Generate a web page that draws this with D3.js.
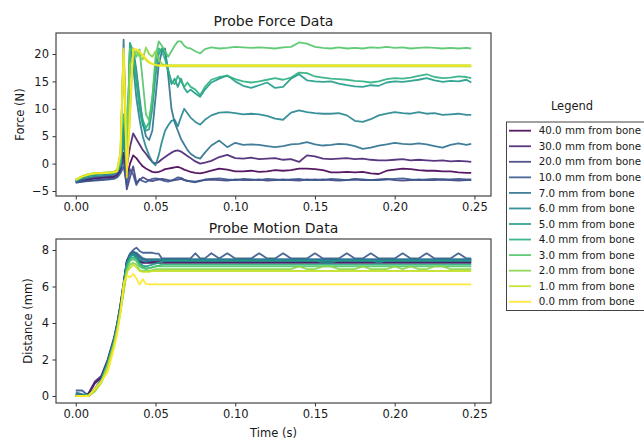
<!DOCTYPE html>
<html lang="en">

<head>
  <meta charset="UTF-8">
  <script src="https://cdn.jsdelivr.net/npm/d3@7"></script>
  <title>Probe Force / Motion Data</title>
  <style>
    body {
      margin: 0;
      background: #fff;
    }

    svg text {
      font-family: 'DejaVu Sans', sans-serif;
      fill: #1a1a1a;
    }

    .tick text {
      font-size: 11.5px;
    }

    .tick line {
      stroke: #333;
    }

    .title {
      font-size: 14px;
      text-anchor: middle;
    }

    .label {
      font-size: 11.5px;
      text-anchor: middle;
    }

    .legend text {
      font-size: 10.3px;
    }
  </style>
</head>

<body>
  <script>
    // time samples (s), shared by every series
    const time = [0, 0.004, 0.008, 0.012, 0.016, 0.020, 0.024, 0.026, 0.028, 0.030,
      0.032, 0.034, 0.036, 0.038, 0.040, 0.042, 0.044, 0.046, 0.048, 0.050,
      0.052, 0.054, 0.056, 0.058, 0.060, 0.062, 0.064, 0.066, 0.068, 0.070,
      0.072, 0.075, 0.078, 0.081, 0.085, 0.090, 0.095, 0.100, 0.105, 0.110,
      0.115, 0.120, 0.125, 0.130, 0.135, 0.140, 0.145, 0.150, 0.155, 0.160,
      0.165, 0.170, 0.175, 0.180, 0.185, 0.190, 0.195, 0.200, 0.205, 0.210,
      0.215, 0.220, 0.225, 0.230, 0.235, 0.240, 0.245, 0.248];

    const labels = ['40.0 mm from bone', '30.0 mm from bone', '20.0 mm from bone', '10.0 mm from bone',
      '7.0 mm from bone', '6.0 mm from bone', '5.0 mm from bone', '4.0 mm from bone',
      '3.0 mm from bone', '2.0 mm from bone', '1.0 mm from bone', '0.0 mm from bone'];

    const xTicks = [0, 0.05, 0.10, 0.15, 0.20, 0.25];
    const forceTicks = [-5, 0, 5, 10, 15, 20];
    const motionTicks = [0, 2, 4, 6, 8];

    // force (N)
    const force40 = [-3.4, -3.1, -2.9, -2.7, -2.6, -2.5, -2.4, -2.1, -1.0, 2.0,
      -2.5, 0.0, 1.5, 1.0, 0.2, -0.5, -0.9, -1.2, -1.5, -1.6,
      -1.5, -1.3, -1.0, -0.9, -0.8, -0.7, -0.6, -0.8, -1.1, -1.3,
      -1.5, -1.7, -1.8, -1.6, -1.3, -0.9, -1.1, -1.4, -1.4, -1.3,
      -1.5, -1.4, -1.2, -1.3, -1.2, -0.9, -0.9, -1.0, -1.2, -1.6,
      -1.6, -1.5, -1.6, -1.5, -1.8, -1.9, -1.3, -1.1, -0.9, -1.0,
      -1.2, -1.3, -1.3, -1.4, -1.4, -1.6, -1.7, -1.7];
    const force30 = [-3.3, -3.0, -2.8, -2.6, -2.5, -2.4, -2.3, -2.0, -1.0, 7.0,
      -0.5, 3.0, 5.5, 4.5, 3.5, 2.5, 1.8, 1.0, 0.3, 0.0,
      0.3, 0.8, 1.2, 1.6, 2.0, 2.3, 2.4, 2.2, 1.8, 1.4,
      1.0, 0.4, 0.0, 0.2, 0.5, 1.2, 1.6, 1.0, 0.9, 1.1,
      0.8, 0.9, 1.0, 0.7, 0.8, 0.3, 1.5, 1.3, 0.9, 0.8,
      0.9, 1.0, 0.8, 0.9, 0.7, 0.6, 0.6, 0.7, 0.8, 0.6,
      0.7, 0.6, 0.5, 0.6, 0.4, 0.5, 0.4, 0.3];
    const force20 = [-3.4, -3.3, -3.1, -3.0, -2.9, -2.8, -2.6, -2.3, -1.5, 1.0,
      -4.7, -2.5, -0.5, -3.5, -3.0, -2.5, -2.8, -3.1, -3.2, -3.0,
      -2.9, -2.8, -2.9, -3.0, -3.1, -3.0, -2.9, -2.8, -3.0, -3.2,
      -3.2, -3.3, -3.1, -3.0, -2.9, -3.0, -3.1, -2.9, -3.0, -3.0,
      -2.9, -3.1, -3.0, -2.9, -3.0, -3.1, -2.9, -3.0, -2.9, -3.0,
      -3.1, -3.0, -2.9, -3.0, -3.0, -2.9, -2.8, -3.0, -3.1, -3.0,
      -2.9, -3.0, -3.0, -2.9, -3.0, -3.1, -3.0, -3.0];
    const force10 = [-3.5, -3.3, -3.2, -3.1, -3.0, -2.9, -2.8, -2.5, -1.8, -0.5,
      -3.8, -1.0, -2.0, -3.9, -2.8, -3.2, -3.4, -3.0, -2.8, -2.7,
      -2.8, -3.0, -3.2, -3.3, -3.1, -2.8, -2.5, -2.6, -2.9, -3.1,
      -3.3, -3.4, -3.2, -2.9, -2.8, -2.7, -2.9, -3.0, -2.8, -2.9,
      -3.0, -2.8, -2.9, -3.0, -2.9, -2.8, -3.0, -2.9, -3.0, -2.8,
      -2.9, -3.0, -2.8, -2.9, -3.0, -3.0, -2.9, -2.8, -2.7, -2.9,
      -3.0, -2.9, -2.8, -2.9, -2.9, -2.8, -2.9, -2.9];
    const force7 = [-3.3, -2.9, -2.6, -2.4, -2.3, -2.2, -2.0, -1.6, -0.5, 22.6,
      -2.0, 20.5, 21.0, 17.0, 12.0, 7.5, 5.0, 4.3, 6.0, 12.0,
      18.0, 20.5, 21.0, 16.0, 10.0, 7.5, 6.0, 4.5, 3.5, 2.5,
      1.8, 1.2, 0.9, 2.0, 3.3, 4.2, 3.0, 3.8, 3.4, 3.5,
      3.4, 3.2, 3.0, 3.2, 3.5, 3.6, 3.9, 3.5, 3.3, 3.4,
      3.6, 3.5, 3.2, 2.7, 2.9, 3.3, 3.5, 3.8, 3.6, 3.5,
      3.7, 3.5, 3.2, 2.9, 3.4, 3.7, 3.4, 3.6];
    const force6 = [-3.2, -2.7, -2.3, -2.1, -2.0, -1.9, -1.8, -1.5, -0.5, 4.0,
      -1.0, 22.0, 18.0, 12.0, 8.0, 5.0, 3.0, 1.5, 0.3, -0.3,
      1.5, 4.0, 6.0, 7.0, 7.8, 8.0, 6.8, 8.5, 10.0, 9.2,
      8.4, 7.6, 7.1, 8.0, 8.8, 9.3, 9.4, 9.2, 9.0, 9.1,
      9.0, 8.7, 8.2, 8.0, 9.3, 9.7, 9.4, 9.2, 9.1, 9.1,
      9.2, 8.8, 7.8, 7.6, 8.1, 8.8, 9.1, 9.4, 9.2, 9.1,
      9.4, 9.1, 9.2, 8.9, 9.0, 9.1, 8.9, 8.9];
    const force5 = [-3.1, -2.6, -2.2, -2.0, -1.9, -1.8, -1.7, -1.4, -0.3, 6.0,
      0.0, 21.5, 20.0, 15.0, 10.0, 7.0, 6.0, 6.3, 10.0, 16.0,
      20.0, 21.0, 20.0, 17.0, 14.5, 15.5, 14.0, 15.5, 13.8, 13.0,
      13.5, 12.8, 12.2, 13.5, 14.8, 15.5, 16.1, 15.0, 14.2, 13.8,
      14.3, 14.8, 13.8, 14.0, 15.5, 16.3, 15.2, 15.0, 14.9, 15.0,
      14.6, 14.3, 14.1, 14.0, 14.3, 14.2, 14.8, 15.0, 14.9, 15.1,
      15.3, 15.6, 15.2, 14.9, 15.1, 15.0, 15.3, 14.8];
    const force4 = [-3.0, -2.5, -2.1, -1.9, -1.8, -1.7, -1.6, -1.3, 0.0, 9.0,
      1.0, 22.0, 20.5, 16.0, 11.0, 8.0, 6.5, 7.5, 12.0, 18.0,
      21.0, 20.5, 19.0, 17.0, 15.0, 14.5, 16.0, 15.0, 14.0, 14.8,
      14.0, 13.5, 12.5, 14.0, 15.3, 15.8, 16.0, 15.4, 15.0, 14.8,
      15.0, 15.3, 15.6, 15.3, 15.7, 16.6, 16.5, 15.9, 15.7, 15.5,
      15.4, 15.3, 15.1, 15.0, 14.8, 15.0, 15.4, 15.6, 15.5, 15.7,
      16.0, 16.3, 15.8, 15.6, 15.7, 15.9, 15.8, 15.6];
    const force3 = [-3.0, -2.4, -2.0, -1.8, -1.7, -1.7, -1.6, -1.2, 0.5, 19.0,
      2.0, 21.0, 20.5, 19.5, 20.8, 15.0, 9.0, 7.9, 12.0, 19.5,
      22.3, 21.5, 20.5, 19.5, 20.5, 21.5, 22.3, 22.3, 21.5, 21.1,
      21.0, 20.5, 20.1, 20.9, 21.2, 21.0, 21.1, 21.3, 21.2, 21.1,
      21.2, 21.1, 21.0, 21.2, 21.3, 22.1, 21.9, 21.3, 21.1, 21.0,
      21.2, 21.0, 21.1, 21.0, 21.2, 21.1, 21.3, 21.1, 21.2, 21.0,
      21.1, 21.2, 21.1, 21.0, 21.1, 21.0, 21.1, 21.0];
    const force2 = [-2.9, -2.3, -1.9, -1.8, -1.7, -1.6, -1.5, -1.0, 2.0, 20.0,
      3.0, 18.0, 19.5, 20.5, 19.5, 19.0, 21.2, 20.0, 19.5, 20.5,
      19.0, 18.2, 17.9, 17.8, 17.75, 17.75, 17.75, 17.75, 17.75, 17.75,
      17.75, 17.75, 17.75, 17.75, 17.75, 17.75, 17.75, 17.75, 17.75, 17.75,
      17.75, 17.75, 17.75, 17.75, 17.75, 17.75, 17.75, 17.75, 17.75, 17.75,
      17.75, 17.75, 17.75, 17.75, 17.75, 17.75, 17.75, 17.75, 17.75, 17.75,
      17.75, 17.75, 17.75, 17.75, 17.75, 17.75, 17.75, 17.75];
    const force1 = [-2.9, -2.3, -1.9, -1.7, -1.7, -1.6, -1.5, -1.1, 1.5, 20.5,
      -1.0, 8.0, 20.8, 20.8, 20.2, 19.6, 18.9, 18.4, 18.2, 18.0,
      17.95, 17.95, 17.95, 17.95, 17.95, 17.95, 17.95, 17.95, 17.95, 17.95,
      17.95, 17.95, 17.95, 17.95, 17.95, 17.95, 17.95, 17.95, 17.95, 17.95,
      17.95, 17.95, 17.95, 17.95, 17.95, 17.95, 17.95, 17.95, 17.95, 17.95,
      17.95, 17.95, 17.95, 17.95, 17.95, 17.95, 17.95, 17.95, 17.95, 17.95,
      17.95, 17.95, 17.95, 17.95, 17.95, 17.95, 17.95, 17.95];
    const force0 = [-3.0, -2.4, -2.0, -1.8, -1.8, -1.7, -1.6, -1.4, 2.0, 21.0,
      -2.5, 10.0, 21.0, 20.8, 20.5, 19.8, 19.2, 18.6, 18.2, 18.0,
      17.85, 17.85, 17.85, 17.85, 17.85, 17.85, 17.85, 17.85, 17.85, 17.85,
      17.85, 17.85, 17.85, 17.85, 17.85, 17.85, 17.85, 17.85, 17.85, 17.85,
      17.85, 17.85, 17.85, 17.85, 17.85, 17.85, 17.85, 17.85, 17.85, 17.85,
      17.85, 17.85, 17.85, 17.85, 17.85, 17.85, 17.85, 17.85, 17.85, 17.85,
      17.85, 17.85, 17.85, 17.85, 17.85, 17.85, 17.85, 17.85];

    // probe motion (mm)
    const motion40 = [0.0, 0.0, 0.1, 0.7, 1.0, 1.9, 3.1, 3.9, 4.9, 6.1,
      7.3, 7.7, 7.75, 7.6, 7.35, 7.3, 7.3, 7.3, 7.3, 7.3,
      7.3, 7.3, 7.3, 7.3, 7.3, 7.3, 7.3, 7.3, 7.3, 7.3,
      7.3, 7.3, 7.3, 7.3, 7.3, 7.3, 7.3, 7.3, 7.3, 7.3,
      7.3, 7.3, 7.3, 7.3, 7.3, 7.3, 7.3, 7.3, 7.3, 7.3,
      7.3, 7.3, 7.3, 7.3, 7.3, 7.3, 7.3, 7.3, 7.3, 7.3,
      7.3, 7.3, 7.3, 7.3, 7.3, 7.3, 7.3, 7.3];
    const motion30 = [0.05, 0.0, 0.15, 0.8, 1.1, 2.0, 3.2, 4.0, 5.0, 6.2,
      7.4, 7.75, 7.8, 7.65, 7.4, 7.35, 7.35, 7.35, 7.35, 7.35,
      7.35, 7.35, 7.35, 7.35, 7.35, 7.35, 7.35, 7.35, 7.35, 7.35,
      7.35, 7.35, 7.35, 7.35, 7.35, 7.35, 7.35, 7.35, 7.35, 7.35,
      7.35, 7.35, 7.35, 7.35, 7.35, 7.35, 7.35, 7.35, 7.35, 7.35,
      7.35, 7.35, 7.35, 7.35, 7.35, 7.35, 7.35, 7.35, 7.35, 7.35,
      7.35, 7.35, 7.35, 7.35, 7.35, 7.35, 7.35, 7.35];
    const motion20 = [0.1, 0.05, 0.0, 0.35, 0.85, 1.85, 3.05, 3.9, 4.9, 6.1,
      7.35, 7.75, 7.9, 7.8, 7.6, 7.5, 7.45, 7.45, 7.45, 7.45,
      7.45, 7.45, 7.45, 7.45, 7.45, 7.45, 7.45, 7.45, 7.45, 7.45,
      7.45, 7.45, 7.45, 7.45, 7.45, 7.45, 7.45, 7.45, 7.45, 7.45,
      7.45, 7.45, 7.45, 7.45, 7.45, 7.45, 7.45, 7.45, 7.45, 7.45,
      7.45, 7.45, 7.45, 7.45, 7.45, 7.45, 7.45, 7.45, 7.45, 7.45,
      7.45, 7.45, 7.45, 7.45, 7.45, 7.45, 7.45, 7.45];
    const motion10 = [0.3, 0.3, 0.0, 0.3, 0.8, 1.8, 3.1, 4.0, 5.0, 6.2,
      7.4, 7.8, 8.0, 8.13, 7.95, 7.85, 7.85, 7.85, 7.85, 7.8,
      7.8, 7.54, 7.54, 7.54, 7.54, 7.54, 7.54, 7.54, 7.54, 7.54,
      7.54, 7.82, 7.54, 7.54, 7.82, 7.54, 7.82, 7.54, 7.54, 7.54,
      7.82, 7.54, 7.54, 7.82, 7.54, 7.54, 7.54, 7.82, 7.54, 7.54,
      7.54, 7.82, 7.54, 7.54, 7.82, 7.54, 7.54, 7.54, 7.82, 7.54,
      7.54, 7.82, 7.54, 7.54, 7.54, 7.82, 7.54, 7.54];
    const motion7 = [0.2, 0.1, 0.0, 0.4, 0.9, 1.9, 3.1, 3.9, 4.9, 6.1,
      7.3, 7.7, 7.9, 7.85, 7.7, 7.55, 7.5, 7.5, 7.5, 7.5,
      7.5, 7.5, 7.5, 7.5, 7.5, 7.5, 7.5, 7.5, 7.5, 7.5,
      7.5, 7.5, 7.5, 7.5, 7.5, 7.5, 7.5, 7.5, 7.5, 7.5,
      7.5, 7.5, 7.5, 7.5, 7.5, 7.5, 7.5, 7.5, 7.5, 7.5,
      7.5, 7.5, 7.5, 7.5, 7.5, 7.5, 7.5, 7.5, 7.5, 7.5,
      7.5, 7.5, 7.5, 7.5, 7.5, 7.5, 7.5, 7.5];
    const motion6 = [0.1, 0.05, 0.05, 0.4, 0.9, 1.8, 3.0, 3.8, 4.8, 6.0,
      7.2, 7.7, 7.8, 7.7, 7.5, 7.4, 7.35, 7.4, 7.45, 7.45,
      7.45, 7.45, 7.45, 7.45, 7.45, 7.45, 7.45, 7.45, 7.45, 7.45,
      7.45, 7.45, 7.45, 7.45, 7.45, 7.45, 7.45, 7.45, 7.45, 7.45,
      7.45, 7.45, 7.45, 7.45, 7.45, 7.45, 7.45, 7.45, 7.3, 7.3,
      7.45, 7.45, 7.45, 7.45, 7.45, 7.3, 7.45, 7.45, 7.45, 7.45,
      7.45, 7.45, 7.45, 7.45, 7.45, 7.45, 7.45, 7.45];
    const motion5 = [0.0, 0.0, 0.05, 0.35, 0.85, 1.8, 3.0, 3.8, 4.8, 6.0,
      7.2, 7.6, 7.75, 7.6, 7.3, 7.15, 7.1, 7.15, 7.2, 7.25,
      7.3, 7.35, 7.4, 7.4, 7.4, 7.4, 7.4, 7.4, 7.4, 7.4,
      7.4, 7.4, 7.4, 7.4, 7.4, 7.4, 7.4, 7.4, 7.4, 7.4,
      7.4, 7.4, 7.4, 7.4, 7.4, 7.4, 7.4, 7.4, 7.4, 7.4,
      7.4, 7.4, 7.4, 7.4, 7.4, 7.4, 7.4, 7.4, 7.4, 7.4,
      7.4, 7.4, 7.4, 7.4, 7.4, 7.4, 7.4, 7.4];
    const motion4 = [0.0, 0.0, 0.05, 0.3, 0.8, 1.7, 2.9, 3.7, 4.7, 5.9,
      7.1, 7.5, 7.6, 7.5, 7.2, 7.05, 7.0, 7.0, 7.05, 7.1,
      7.15, 7.2, 7.2, 7.2, 7.2, 7.2, 7.2, 7.2, 7.2, 7.2,
      7.2, 7.2, 7.2, 7.2, 7.2, 7.2, 7.2, 7.2, 7.2, 7.2,
      7.2, 7.2, 7.2, 7.2, 7.2, 7.2, 7.2, 7.2, 7.2, 7.2,
      7.2, 7.2, 7.2, 7.2, 7.2, 7.2, 7.2, 7.2, 7.2, 7.2,
      7.2, 7.2, 7.2, 7.2, 7.2, 7.2, 7.2, 7.2];
    const motion3 = [0.0, 0.0, 0.05, 0.3, 0.8, 1.7, 2.9, 3.7, 4.7, 5.8,
      7.0, 7.4, 7.5, 7.4, 7.1, 7.0, 6.95, 7.0, 7.05, 7.1,
      7.1, 7.1, 7.1, 7.1, 7.1, 7.1, 7.1, 7.1, 7.1, 7.1,
      7.1, 7.1, 7.1, 7.1, 7.1, 7.1, 7.1, 7.1, 7.1, 7.1,
      7.1, 7.1, 7.1, 7.1, 7.1, 7.1, 7.1, 7.1, 7.1, 7.1,
      7.1, 7.1, 7.1, 7.1, 7.1, 7.1, 7.1, 7.1, 7.1, 7.1,
      7.1, 7.1, 7.1, 7.1, 7.1, 7.1, 7.1, 7.1];
    const motion2 = [0.0, 0.0, 0.0, 0.25, 0.75, 1.6, 2.8, 3.6, 4.6, 5.7,
      6.8, 7.2, 7.3, 7.2, 6.9, 6.85, 6.85, 6.85, 6.9, 6.95,
      6.95, 6.95, 6.95, 6.95, 6.95, 6.95, 6.95, 6.95, 6.95, 6.95,
      6.95, 6.95, 6.95, 6.95, 6.95, 6.95, 6.95, 6.95, 6.95, 6.95,
      6.95, 6.95, 6.95, 6.95, 6.95, 7.1, 6.95, 6.95, 7.1, 7.1,
      6.95, 6.95, 6.95, 7.1, 6.95, 6.95, 6.95, 7.1, 6.95, 7.1,
      6.95, 6.95, 7.1, 7.1, 6.95, 6.95, 6.95, 6.95];
    const motion1 = [0.0, 0.0, 0.0, 0.3, 0.7, 1.6, 2.8, 3.6, 4.6, 5.7,
      6.8, 7.0, 7.2, 7.05, 6.85, 6.8, 6.8, 6.8, 6.85, 6.85,
      6.85, 6.85, 6.85, 6.85, 6.85, 6.85, 6.85, 6.85, 6.85, 6.85,
      6.85, 6.85, 6.85, 6.85, 6.85, 6.85, 6.85, 6.85, 6.85, 6.85,
      6.85, 6.85, 6.85, 6.85, 6.85, 6.85, 6.85, 6.85, 6.85, 6.85,
      6.85, 6.85, 6.85, 6.85, 6.85, 6.85, 6.85, 6.85, 6.85, 6.85,
      6.85, 6.85, 6.85, 6.85, 6.85, 6.85, 6.85, 6.85];
    const motion0 = [0.0, 0.0, 0.0, 0.4, 0.8, 1.3, 2.6, 3.4, 4.5, 6.2,
      6.6, 6.5, 6.7, 6.45, 6.1, 6.4, 6.15, 6.12, 6.12, 6.12,
      6.12, 6.12, 6.12, 6.12, 6.12, 6.12, 6.12, 6.12, 6.12, 6.12,
      6.12, 6.12, 6.12, 6.12, 6.12, 6.12, 6.12, 6.12, 6.12, 6.12,
      6.12, 6.12, 6.12, 6.12, 6.12, 6.12, 6.12, 6.12, 6.12, 6.12,
      6.12, 6.12, 6.12, 6.12, 6.12, 6.12, 6.12, 6.12, 6.12, 6.12,
      6.12, 6.12, 6.12, 6.12, 6.12, 6.12, 6.12, 6.12];

    const forceSeries = [force40, force30, force20, force10, force7, force6, force5, force4, force3, force2, force1, force0];
    const motionSeries = [motion40, motion30, motion20, motion10, motion7, motion6, motion5, motion4, motion3, motion2, motion1, motion0];

    const width = 644, height = 443;
    const left = 56, right = 491;

    const svg = d3.select('body').append('svg').attr('width', width).attr('height', height);

    const color = d3.scaleSequential(d3.interpolateViridis).domain([0, labels.length - 1]);
    const x = d3.scaleLinear().domain([-0.0124, 0.2604]).range([left, right]);
    const yForce = d3.scaleLinear().domain([-5.91, 23.83]).range([196, 33]);
    const yMotion = d3.scaleLinear().domain([-0.384, 8.603]).range([403, 239]);

    function panel(y, series, yTicks, title, titleY, yLabel, yLabelX) {
      const [bottom, top] = y.range();
      const g = svg.append('g');

      const line = d3.line().x((d, i) => x(time[i])).y(d => y(d));
      g.selectAll('path.series').data(series).join('path')
        .attr('class', 'series')
        .attr('d', line)
        .attr('fill', 'none')
        .attr('stroke', (d, i) => color(i))
        .attr('stroke-opacity', 0.9)
        .attr('stroke-width', 1.8)
        .attr('stroke-linejoin', 'round');

      g.append('g').attr('transform', `translate(0,${bottom})`)
        .call(d3.axisBottom(x).tickValues(xTicks).tickFormat(d3.format('.2f'))
          .tickSize(3.5).tickPadding(3.5).tickSizeOuter(0))
        .call(a => a.select('.domain').remove());
      g.append('g').attr('transform', `translate(${left},0)`)
        .call(d3.axisLeft(y).tickValues(yTicks).tickFormat(d3.format('d'))
          .tickSize(3.5).tickPadding(3.5).tickSizeOuter(0))
        .call(a => a.select('.domain').remove());

      g.append('rect')
        .attr('x', left).attr('y', top)
        .attr('width', right - left).attr('height', bottom - top)
        .attr('fill', 'none').attr('stroke', '#444').attr('stroke-width', 1.2);

      g.append('text').attr('class', 'title')
        .attr('x', (left + right) / 2).attr('y', titleY).text(title);
      g.append('text').attr('class', 'label')
        .attr('transform', `translate(${yLabelX},${(top + bottom) / 2}) rotate(-90)`)
        .text(yLabel);
    }

    panel(yForce, forceSeries, forceTicks, 'Probe Force Data', 26, 'Force (N)', 24);
    panel(yMotion, motionSeries, motionTicks, 'Probe Motion Data', 232.7, 'Distance (mm)', 32);

    svg.append('text').attr('class', 'label')
      .attr('x', (left + right) / 2).attr('y', 437).text('Time (s)');

    // legend
    const legend = svg.append('g').attr('class', 'legend');
    svg.append('text').attr('class', 'label').attr('x', 572).attr('y', 110).text('Legend');
    legend.append('rect')
      .attr('x', 506.5).attr('y', 122).attr('width', 150).attr('height', 188.5)
      .attr('fill', '#fff').attr('stroke', '#444').attr('stroke-width', 1);
    const rows = legend.selectAll('g.row').data(labels).join('g')
      .attr('class', 'row')
      .attr('transform', (d, i) => `translate(0,${130.7 + i * 15.55})`);
    rows.append('line')
      .attr('x1', 509).attr('x2', 531)
      .attr('stroke', (d, i) => color(i)).attr('stroke-opacity', 0.9).attr('stroke-width', 1.8);
    rows.append('text').attr('x', 538.7).attr('y', 3.6).text(d => d);
  </script>
</body>

</html>
